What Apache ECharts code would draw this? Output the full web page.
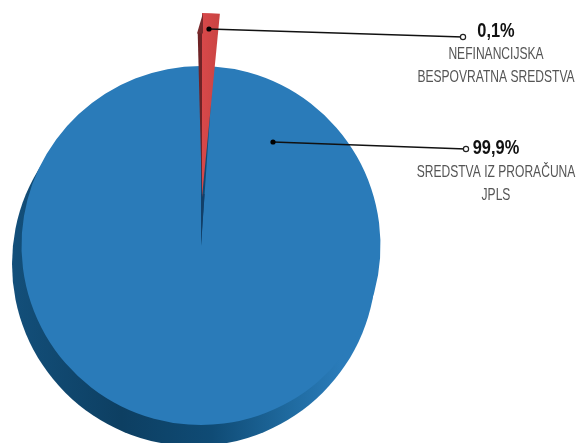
<!DOCTYPE html>
<html>
<head>
<meta charset="utf-8">
<style>html,body{margin:0;padding:0;background:#fff}#c{width:577px;height:443px}</style>
<script src="https://cdn.jsdelivr.net/npm/echarts@6/dist/echarts.min.js"></script>
</head>
<body>
<div id="c"></div>
<script>
// Shares as printed on the chart
const sliceNames = ['NEFINANCIJSKA BESPOVRATNA SREDSTVA', 'SREDSTVA IZ PRORAČUNA JPLS'];
const printedPercent = ['0,1%', '99,9%'];
const captionLines = [['NEFINANCIJSKA', 'BESPOVRATNA SREDSTVA'], ['SREDSTVA IZ PRORAČUNA', 'JPLS']];
// Shares as the picture actually draws them (the small slice is exaggerated in the reference)
const drawnRedShare = [1.55, 98.45];
const drawnGapShare = [1.1, 98.9];
const drawnRedSideShare = [0.9, 99.1];

const FONT = '"Liberation Sans",sans-serif';
const hidden = {color: 'transparent'};

function pie(center, radius, shares, startAngle, firstStyle, secondStyle, z) {
  return {
    type: 'pie', silent: true, clockwise: true, startAngle, center, radius,
    label: {show: false}, labelLine: {show: false}, z, animation: false,
    emphasis: {disabled: true},
    data: [
      {name: sliceNames[0], value: shares[0], itemStyle: firstStyle},
      {name: sliceNames[1], value: shares[1], itemStyle: secondStyle}
    ]
  };
}

const rimColor = {type: 'linear', x: 0, y: 0, x2: 1, y2: 0, colorStops: [
  {offset: 0, color: '#134f7a'}, {offset: 0.3, color: '#0d3f62'}, {offset: 0.55, color: '#0f4b75'},
  {offset: 0.76, color: '#1f6a9f'}, {offset: 0.9, color: '#2a7bb9'}
]};
const redColor = {type: 'linear', x: 0, y: 0, x2: 1, y2: 0, colorStops: [{offset: 0, color: '#d8484a'}, {offset: 1, color: '#c94442'}]};

const series = [
  pie([194, 264], 182, [0, 100], 90, hidden, {color: rimColor}, 1),
  pie([201, 245.5], 179.5, drawnGapShare, 90, hidden, {color: '#2a7bb9'}, 2),
  pie([201, 246], 52, drawnGapShare, 90, {color: '#123f68'}, hidden, 3),
  pie([202, 197], 164, drawnRedSideShare, 91.5, {color: '#6f2326'}, hidden, 4),
  pie([202, 197], 184, drawnRedShare, 90, {color: redColor}, hidden, 5)
];

function leader(x1, y1, x2, y2) {
  return [
    {type: 'line', z: 20, shape: {x1, y1, x2, y2}, style: {stroke: '#111', lineWidth: 1.3}},
    {type: 'circle', z: 21, shape: {cx: x1, cy: y1, r: 2.6}, style: {fill: '#000'}},
    {type: 'circle', z: 21, shape: {cx: x2, cy: y2, r: 2.6}, style: {fill: '#fff', stroke: '#222', lineWidth: 1.2}}
  ];
}
function txt(text, x, y, size, weight, color, scaleX) {
  return {type: 'text', z: 22, x, y, scaleX, style: {
    text, fontFamily: FONT, fontSize: size, fontWeight: weight, fill: color,
    textAlign: 'center', textVerticalAlign: 'middle'}};
}

const graphic = [
  {type: 'polygon', z: 19, shape: {points: [[203, 13], [197, 33.5], [203, 33.5]]}, style: {fill: '#7a2a2c'}},
  ...leader(209, 29, 463, 37),
  ...leader(273, 142, 466, 149),
  txt(printedPercent[0], 496, 31, 20, 'bold', '#111', 0.82),
  txt(captionLines[0][0], 496, 54, 17, 'normal', '#555', 0.71),
  txt(captionLines[0][1], 496, 77, 17, 'normal', '#555', 0.71),
  txt(printedPercent[1], 496, 148, 20, 'bold', '#111', 0.82),
  txt(captionLines[1][0], 496, 172, 17, 'normal', '#555', 0.71),
  txt(captionLines[1][1], 496, 195, 17, 'normal', '#555', 0.71)
];

const chart = echarts.init(document.getElementById('c'), null, {renderer: 'canvas'});
chart.setOption({backgroundColor: '#fff', animation: false, series, graphic});
</script>
</body>
</html>
